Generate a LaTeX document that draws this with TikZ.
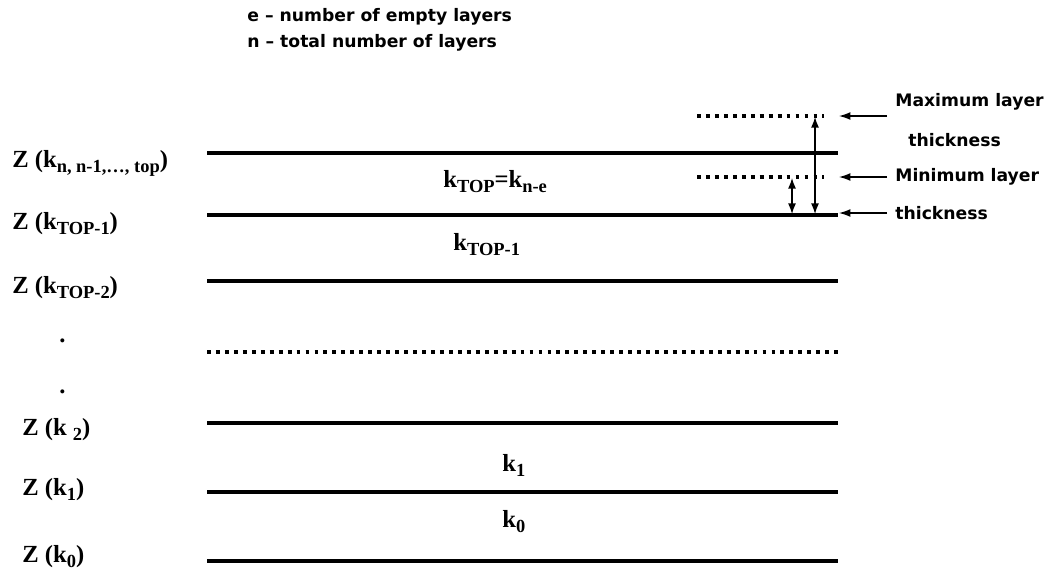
\documentclass[tikz,border=0pt]{standalone}
\usepackage{fontspec}
\setmainfont{Liberation Serif}
\newfontfamily\notefont{DejaVu Sans}
\usetikzlibrary{arrows.meta}
\newcommand{\lsub}[1]{\raisebox{-0.45ex}{\fontsize{10.5}{11}\selectfont #1}}
\begin{document}
\begin{tikzpicture}[x=0.02cm,y=-0.02cm,
    layer/.style={line width=2.3pt},
    emptylayer/.style={line width=2.2pt,dash pattern=on 2.2pt off 2.9pt},
    pointer/.style={-{Latex[length=6.5pt,width=4.5pt]},line width=0.7pt},
    span/.style={{Latex[length=6pt,width=4.5pt]}-{Latex[length=6pt,width=4.5pt]},line width=0.7pt},
    zlabel/.style={anchor=base west,inner sep=0pt,font=\bfseries\fontsize{14}{16}\selectfont},
    klabel/.style={anchor=base west,inner sep=0pt,font=\bfseries\fontsize{14}{16}\selectfont},
    note/.style={anchor=west,inner sep=0pt,font=\notefont\bfseries\fontsize{9.8}{12}\selectfont}]

    \useasboundingbox (0,0) rectangle (1053,571);

    % legend
    \node[note] (eleg) at (247,17) {e – number of empty layers};
    \node[note] (nleg) at (247,43) {n – total number of layers};

    % layer boundaries
    \coordinate (top0) at (207,153);  \coordinate (top1) at (838,153);
    \coordinate (tm0)  at (207,215);  \coordinate (tm1)  at (838,215);
    \coordinate (tm20) at (207,281);  \coordinate (tm21) at (838,281);
    \coordinate (mid0) at (207,352);  \coordinate (mid1) at (838,352);
    \coordinate (two0) at (207,423);  \coordinate (two1) at (838,423);
    \coordinate (one0) at (207,492);  \coordinate (one1) at (838,492);
    \coordinate (zer0) at (207,561);  \coordinate (zer1) at (838,561);
    \draw[layer] (top0) -- (top1);
    \draw[layer] (tm0) -- (tm1);
    \draw[layer] (tm20) -- (tm21);
    \draw[emptylayer] (mid0) -- (mid1);
    \draw[layer] (two0) -- (two1);
    \draw[layer] (one0) -- (one1);
    \draw[layer] (zer0) -- (zer1);

    % thickness limits
    \coordinate (max0) at (697,116);  \coordinate (max1) at (824,116);
    \coordinate (min0) at (697,177);  \coordinate (min1) at (824,177);
    \draw[emptylayer] (max0) -- (max1);
    \draw[emptylayer] (min0) -- (min1);
    \draw[span] (815,117) -- (815,214);
    \draw[span] (792,178) -- (792,214);

    % Z labels
    \node[zlabel] (ztop) at (12,167) {Z (k\lsub{n, n-1,\dots, top})};
    \node[zlabel] (ztm1) at (12,229) {Z (k\lsub{TOP-1})};
    \node[zlabel] (ztm2) at (12,293) {Z (k\lsub{TOP-2})};
    \node[zlabel] (dot1) at (59,342) {.};
    \node[zlabel] (dot2) at (59,393) {.};
    \node[zlabel] (ztwo) at (22,435) {Z (k \lsub{2})};
    \node[zlabel] (zone) at (22,495) {Z (k\lsub{1})};
    \node[zlabel] (zzer) at (22,562) {Z (k\lsub{0})};

    % layer names
    \node[klabel] (ktop) at (443,187) {k\lsub{TOP}=k\lsub{n-e}};
    \node[klabel] (ktm1) at (453,250) {k\lsub{TOP-1}};
    \node[klabel] (kone) at (502,471) {k\lsub{1}};
    \node[klabel] (kzer) at (502,527) {k\lsub{0}};

    % notes on the right
    \node[note] (maxa) at (895,102) {Maximum layer};
    \node[note] (maxb) at (908,140) {thickness};
    \node[note] (mina) at (895,177) {Minimum layer};
    \node[note] (minb) at (895,213) {thickness};
    \coordinate (amax) at (887,116);
    \coordinate (amin) at (887,177);
    \coordinate (athk) at (887,213);
    \draw[pointer] (amax) -- (839,116);
    \draw[pointer] (amin) -- (839,177);
    \draw[pointer] (athk) -- (839,213);

\end{tikzpicture}
\end{document}
